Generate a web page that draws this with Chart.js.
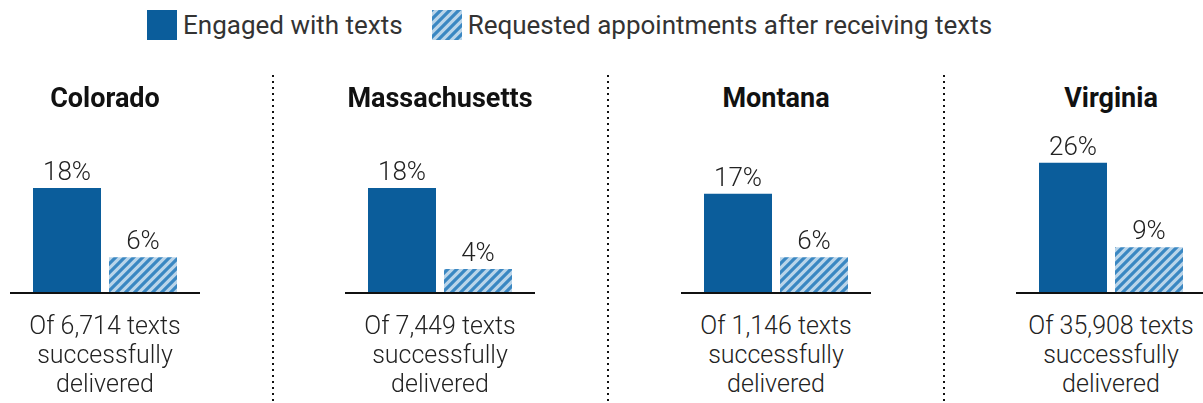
<!DOCTYPE html>
<html>
<head>
<meta charset="utf-8">
<script src="https://cdn.jsdelivr.net/npm/chart.js@4.4.0/dist/chart.umd.min.js"></script>
<style>
  body { margin: 0; width: 1203px; height: 403px; overflow: hidden; background: #fff;
         font-family: 'Roboto', sans-serif; font-weight: 300; color: #222; position: relative; }
  .legend { position: absolute; top: 10px; left: 147px; display: flex; align-items: center; font-size: 26px; white-space: nowrap; font-weight: 400; color: #333; }
  .legend canvas { display: block; margin-right: 6px; }
  .legend span { margin-right: 29px; }
  .panel { position: absolute; top: 0; width: 210px; height: 403px; }
  .panel canvas { position: absolute; left: 0; top: 130px; }
  .title { position: absolute; top: 82px; left: 0; width: 210px; text-align: center; font-weight: bold; font-size: 27px; color: #111; }
  .caption { position: absolute; top: 311px; left: 0; width: 210px; text-align: center; font-size: 25px; line-height: 29px; }
  .sep { position: absolute; top: 75px; width: 2px; height: 330px;
         background: repeating-linear-gradient(to bottom, #111 0 2px, transparent 2px 6px); }
</style>
</head>
<body>
<div class="legend" id="legend"></div>
<div class="sep" style="left:272px"></div>
<div class="sep" style="left:607px"></div>
<div class="sep" style="left:943px"></div>
<div id="panels"></div>
<script>
const states = ['Colorado', 'Massachusetts', 'Montana', 'Virginia'];
const engaged = [18, 18, 17, 26];
const requested = [6, 4, 6, 9];
const delivered = ['6,714', '7,449', '1,146', '35,908'];
const seriesNames = ['Engaged with texts', 'Requested appointments after receiving texts'];

const BLUE = '#0b5d9b';

function hatch() {
  const c = document.createElement('canvas');
  c.width = 9; c.height = 9;
  const g = c.getContext('2d');
  g.fillStyle = '#bad5ea';
  g.fillRect(0, 0, 9, 9);
  g.strokeStyle = '#3a87c2';
  g.lineWidth = 3.2;
  g.beginPath();
  g.moveTo(-2, 11); g.lineTo(11, -2);
  g.moveTo(-7, 7); g.lineTo(7, -7);
  g.moveTo(2, 16); g.lineTo(16, 2);
  g.stroke();
  return g.createPattern(c, 'repeat');
}

// legend
const legend = document.getElementById('legend');
seriesNames.forEach((name, i) => {
  const sw = document.createElement('canvas');
  sw.width = 30; sw.height = 30;
  const g = sw.getContext('2d');
  g.fillStyle = i === 0 ? BLUE : hatch();
  g.fillRect(0, 0, 30, 30);
  const t = document.createElement('span');
  t.textContent = name;
  legend.appendChild(sw);
  legend.appendChild(t);
});

const valueLabels = {
  id: 'valueLabels',
  afterDatasetsDraw(chart) {
    const ctx = chart.ctx;
    const meta = chart.getDatasetMeta(0);
    ctx.save();
    ctx.font = '300 26px Roboto, sans-serif';
    ctx.fillStyle = '#222';
    ctx.textAlign = 'center';
    ctx.textBaseline = 'alphabetic';
    meta.data.forEach((bar, i) => {
      ctx.fillText(chart.data.datasets[0].data[i] + '%', bar.x, bar.y - 8);
    });
    // baseline
    const y0 = chart.scales.y.getPixelForValue(0) + 1;
    ctx.strokeStyle = '#111';
    ctx.lineWidth = 2;
    ctx.beginPath();
    ctx.moveTo(10, y0);
    ctx.lineTo(chart.width - 10, y0);
    ctx.stroke();
    ctx.restore();
  }
};

const lefts = [0, 335, 671, 1006];
const yMax = [26.3, 26.3, 26.3, 30.6];
const panels = document.getElementById('panels');

states.forEach((st, i) => {
  const p = document.createElement('div');
  p.className = 'panel';
  p.style.left = lefts[i] + 'px';
  p.innerHTML = '<div class="title">' + st + '</div>' +
    '<div class="caption">Of ' + delivered[i] + ' texts<br>successfully<br>delivered</div>';
  const cv = document.createElement('canvas');
  cv.width = 210; cv.height = 166;
  cv.style.width = '210px'; cv.style.height = '166px';
  p.appendChild(cv);
  panels.appendChild(p);

  new Chart(cv.getContext('2d'), {
    type: 'bar',
    data: {
      labels: seriesNames,
      datasets: [{
        data: [engaged[i], requested[i]],
        backgroundColor: [BLUE, hatch()],
        borderWidth: 0,
        barPercentage: 68 / 76,
        categoryPercentage: 1
      }]
    },
    plugins: [valueLabels],
    options: {
      responsive: false,
      animation: false,
      layout: { padding: { left: 29, right: 29, top: 10, bottom: 4 } },
      scales: {
        x: { display: false },
        y: { display: false, min: 0, max: yMax[i] }
      },
      plugins: {
        legend: { display: false },
        tooltip: { enabled: false }
      }
    }
  });
});
</script>
</body>
</html>
